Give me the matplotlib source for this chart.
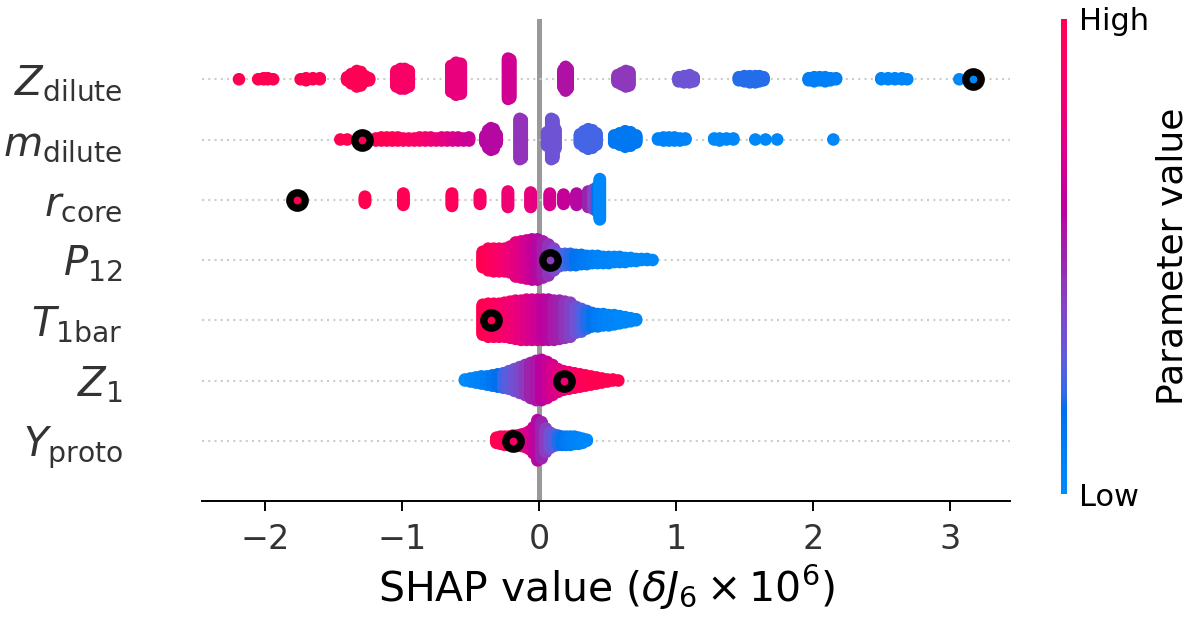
import numpy as np
import matplotlib
matplotlib.use('Agg')
import matplotlib.pyplot as plt
from matplotlib.colors import LinearSegmentedColormap, Normalize
from matplotlib.cm import ScalarMappable

# features, bottom to top
features = [r'$Y_{\rm proto}$', r'$Z_1$', r'$T_{\rm 1bar}$', r'$P_{12}$',
            r'$r_{\rm core}$', r'$m_{\rm dilute}$', r'$Z_{\rm dilute}$']

# each row: shap value of a bin, number of samples stacked there, parameter value (0=low, 1=high)
zdil_x = [-2.19, -2.05, -2.01, -1.98, -1.94, -1.74, -1.70, -1.65, -1.60,
          -1.40, -1.37, -1.33, -1.30, -1.27, -1.24, -1.04, -1.01, -0.98, -0.95,
          -0.64, -0.605, -0.57, -0.225, -0.21, 0.18, 0.195, 0.21,
          0.575, 0.605, 0.635, 0.66, 1.02, 1.06, 1.10, 1.13,
          1.46, 1.50, 1.54, 1.58, 1.61, 1.64, 1.97, 2.01, 2.05, 2.09, 2.13, 2.17,
          2.50, 2.55, 2.60, 2.65, 2.69, 3.07]
zdil_n = [1, 1, 2, 2, 1, 1, 3, 2, 2,
          4, 10, 16, 14, 6, 3, 16, 20, 20, 16,
          26, 32, 30, 40, 38, 18, 24, 20,
          8, 12, 16, 14, 5, 7, 8, 5,
          4, 6, 7, 7, 6, 4, 3, 5, 4, 5, 3, 2,
          2, 2, 2, 2, 1, 1]
zdil_c = [1.0] * 9 + [0.98] * 6 + [0.9] * 4 + [0.8] * 3 + [0.68] * 2 + [0.56] * 3 + \
         [0.44] * 4 + [0.33] * 4 + [0.2] * 6 + [0.08] * 6 + [0.04] * 5 + [0.02]

mdil_x = [-1.45, -1.40,
          -1.19, -1.15, -1.11, -1.07, -1.03, -0.99, -0.95, -0.91, -0.87,
          -0.83, -0.79, -0.75, -0.71, -0.67, -0.63, -0.59, -0.55, -0.51,
          -0.39, -0.37, -0.35, -0.33, -0.31,
          -0.14, -0.125,
          0.06, 0.09, 0.105, 0.12,
          0.30, 0.33, 0.36, 0.39, 0.42,
          0.55, 0.59, 0.63, 0.67, 0.71,
          0.87, 0.91, 0.95, 0.99, 1.03, 1.07,
          1.28, 1.32, 1.37, 1.42, 1.58, 1.655, 1.74, 2.15]
mdil_n = [1, 1,
          3, 4, 4, 4, 4, 3, 3, 3, 4,
          4, 4, 3, 4, 4, 4, 4, 3, 4,
          8, 18, 22, 20, 10,
          40, 38,
          14, 40, 38, 20,
          10, 16, 20, 18, 12,
          8, 12, 16, 14, 8,
          2, 4, 4, 4, 3, 2,
          2, 3, 2, 2, 1, 1, 1, 1]
mdil_c = [1.0, 1.0,
          1.0, 1.0, 1.0, 0.99, 0.98, 0.96, 0.94, 0.92, 0.9,
          0.87, 0.85, 0.82, 0.79, 0.76, 0.73, 0.7, 0.68, 0.66,
          0.58, 0.58, 0.58, 0.58, 0.58,
          0.45, 0.45,
          0.33, 0.33, 0.33, 0.33,
          0.24, 0.24, 0.24, 0.24, 0.24,
          0.13, 0.13, 0.13, 0.13, 0.13,
          0.06, 0.06, 0.06, 0.06, 0.06, 0.06,
          0.03, 0.03, 0.03, 0.03, 0.02, 0.02, 0.02, 0.02]

rcore_x = [-1.27, -0.99, -0.635, -0.43, -0.226, -0.06, 0.08, 0.18, 0.275, 0.36, 0.40, 0.43, 0.445]
rcore_n = [7, 12, 13, 10, 16, 15, 12, 10, 12, 16, 20, 26, 40]
rcore_c = [1.0, 0.98, 0.95, 0.9, 0.84, 0.78, 0.7, 0.64, 0.58, 0.5, 0.38, 0.15, 0.03]

p12_x = [-0.41, -0.37, -0.33, -0.29, -0.25, -0.21, -0.17, -0.13, -0.09, -0.05, -0.01,
         0.03, 0.07, 0.11, 0.15, 0.19, 0.23, 0.27, 0.31, 0.35, 0.39, 0.43, 0.47,
         0.51, 0.55, 0.59, 0.63, 0.67, 0.71, 0.75, 0.79, 0.83]
p12_n = [16, 22, 23, 23, 23, 26, 34, 36, 38, 40, 40,
         36, 31, 22, 13, 12, 12, 11, 10, 9, 8, 8, 7,
         7, 6, 6, 5, 4, 3, 2, 2, 1]
p12_c = [1.0, 0.97, 0.94, 0.9, 0.86, 0.82, 0.78, 0.74, 0.7, 0.64, 0.58,
         0.52, 0.45, 0.38, 0.3, 0.24, 0.2, 0.16, 0.13, 0.1, 0.08, 0.06, 0.05,
         0.04, 0.03, 0.03, 0.02, 0.02, 0.02, 0.02, 0.02, 0.02]

t1bar_x = [-0.41, -0.37, -0.33, -0.29, -0.25, -0.21, -0.17, -0.13, -0.09, -0.05, -0.01,
           0.03, 0.07, 0.11, 0.15, 0.19, 0.23, 0.27, 0.31, 0.35, 0.39, 0.43, 0.47,
           0.51, 0.55, 0.59, 0.63, 0.67, 0.71]
t1bar_n = [30, 33, 33, 33, 34, 36, 38, 39, 40, 40, 40,
           40, 40, 39, 38, 36, 34, 26, 23, 18, 14, 13, 12,
           11, 10, 8, 6, 4, 2]
t1bar_c = [1.0, 0.98, 0.95, 0.92, 0.89, 0.86, 0.82, 0.78, 0.74, 0.7, 0.66,
           0.62, 0.58, 0.54, 0.5, 0.45, 0.4, 0.33, 0.26, 0.2, 0.15, 0.1, 0.07,
           0.05, 0.04, 0.03, 0.02, 0.02, 0.02]

z1_x = [-0.54, -0.50, -0.46, -0.42, -0.38, -0.34, -0.30, -0.26, -0.22, -0.18, -0.14,
        -0.10, -0.06, -0.02, 0.02, 0.06, 0.10, 0.14, 0.18, 0.22, 0.26, 0.30, 0.34,
        0.38, 0.42, 0.46, 0.50, 0.54, 0.58]
z1_n = [2, 4, 6, 8, 9, 11, 13, 15, 18, 22, 26,
        30, 35, 39, 40, 36, 30, 23, 19, 17, 15, 13, 11,
        9, 7, 5, 3, 2, 1]
z1_c = [0.0, 0.02, 0.04, 0.07, 0.1, 0.14, 0.18, 0.23, 0.28, 0.33, 0.38,
        0.44, 0.5, 0.55, 0.6, 0.65, 0.71, 0.76, 0.82, 0.87, 0.91, 0.94, 0.97,
        0.99, 1.0, 1.0, 1.0, 1.0, 1.0]

yproto_x = [-0.31, -0.28, -0.25, -0.22, -0.19, -0.16, -0.13, -0.10, -0.07, -0.04, -0.01,
            0.02, 0.05, 0.08, 0.11, 0.14, 0.17, 0.20, 0.23, 0.26, 0.29, 0.32, 0.35]
yproto_n = [6, 8, 9, 9, 10, 11, 12, 14, 18, 26, 40,
            36, 24, 16, 12, 10, 9, 9, 9, 8, 7, 5, 2]
yproto_c = [1.0, 0.98, 0.95, 0.92, 0.88, 0.84, 0.8, 0.76, 0.71, 0.65, 0.58,
            0.5, 0.42, 0.34, 0.27, 0.2, 0.15, 0.11, 0.08, 0.06, 0.04, 0.03, 0.02]

# the highlighted sample, bottom to top
hl_x = [-0.19, 0.18, -0.353, 0.08, -1.764, -1.294, 3.168]
hl_c = [0.9, 0.84, 1.0, 0.42, 1.0, 1.0, 0.02]

rows = [(yproto_x, yproto_n, yproto_c), (z1_x, z1_n, z1_c), (t1bar_x, t1bar_n, t1bar_c),
        (p12_x, p12_n, p12_c), (rcore_x, rcore_n, rcore_c), (mdil_x, mdil_n, mdil_c),
        (zdil_x, zdil_n, zdil_c)]


# shap's red_blue colormap (lch interpolation)
def lch_to_rgb(l, c, h):
    a = c * np.cos(h)
    b = c * np.sin(h)
    fy = (l + 16) / 116.
    f = np.array([fy + a / 500., fy, fy - b / 200.])
    xyz = np.where(f > 6 / 29, f ** 3, (f - 16 / 116) / 7.787) * np.array([0.95047, 1.0, 1.08883])
    m = np.array([[3.2406, -1.5372, -0.4986], [-0.9689, 1.8758, 0.0415], [0.0557, -0.2040, 1.0570]])
    rgb = m @ xyz
    rgb = np.where(rgb > 0.0031308, 1.055 * np.maximum(rgb, 0) ** (1 / 2.4) - 0.055, 12.92 * rgb)
    return np.clip(rgb, 0, 1)


nsteps = 100
l_vals = list(np.linspace(54., 40., nsteps // 2)) + list(np.linspace(40., 54., nsteps // 2))
c_vals = np.linspace(70., 90., nsteps)
h_vals = np.linspace(4.6588, 0.35470565 + 2 * np.pi, nsteps)
cmap = LinearSegmentedColormap.from_list(
    'red_blue', [lch_to_rgb(l, c, h) for l, c, h in zip(l_vals, c_vals, h_vals)])


def beeswarm(xs, counts, cols, row_height=0.4):
    # stack the samples of each bin alternately above and below the row
    x = np.repeat(xs, counts)
    c = np.repeat(cols, counts)
    layer = np.concatenate([np.arange(n) for n in counts])
    y = np.ceil(layer / 2) * ((layer % 2) * 2 - 1)
    y = y * 0.9 * (row_height / np.max(y + 1))
    return x, y, c


fig = plt.figure(figsize=(12, 6.3), dpi=100)
ax = fig.add_axes([202 / 1200, 1 - 501 / 630, 808 / 1200, 482 / 630])

ax.axvline(0, color='#999999', lw=3.6, zorder=-1)
for pos, (xs, ns, cs) in enumerate(rows):
    ax.axhline(pos, color='#cccccc', lw=1.5, dashes=(1, 2), zorder=-1)
    x, y, c = beeswarm(xs, ns, cs)
    ax.scatter(x, pos + y, c=c, cmap=cmap, vmin=0, vmax=1, s=82, linewidths=0, zorder=3)
    ax.scatter([hl_x[pos]], [pos], s=122, color=[cmap(hl_c[pos])], edgecolors='black',
               linewidths=5.3, zorder=4)

ax.set_xlim(-2.46, 3.44)
ax.set_ylim(-1, 7)
ax.set_yticks(range(len(features)))
ax.set_yticklabels(features)
ax.set_xticks([-2, -1, 0, 1, 2, 3])
for s in ['left', 'right', 'top']:
    ax.spines[s].set_visible(False)
ax.spines['bottom'].set_linewidth(1.4)
ax.tick_params('y', length=0, pad=57, labelsize=29, labelcolor='#333333')
ax.tick_params('x', length=7, width=1.4, pad=9, labelsize=24, labelcolor='#333333')
ax.set_xlabel(r'SHAP value ($\delta J_6 \times 10^6$)', fontsize=29.5, labelpad=5)

cax = fig.add_axes([1061 / 1200, 1 - 494 / 630, 6 / 1200, 475 / 630])
cb = fig.colorbar(ScalarMappable(norm=Normalize(0, 1), cmap=cmap), cax=cax, ticks=[0, 1])
cb.set_ticklabels(['Low', 'High'])
cb.ax.tick_params(labelsize=22, length=0, pad=9)
cb.set_label('Parameter value', size=26, labelpad=4)
cb.outline.set_visible(False)

fig.savefig('out.png', dpi=100)
